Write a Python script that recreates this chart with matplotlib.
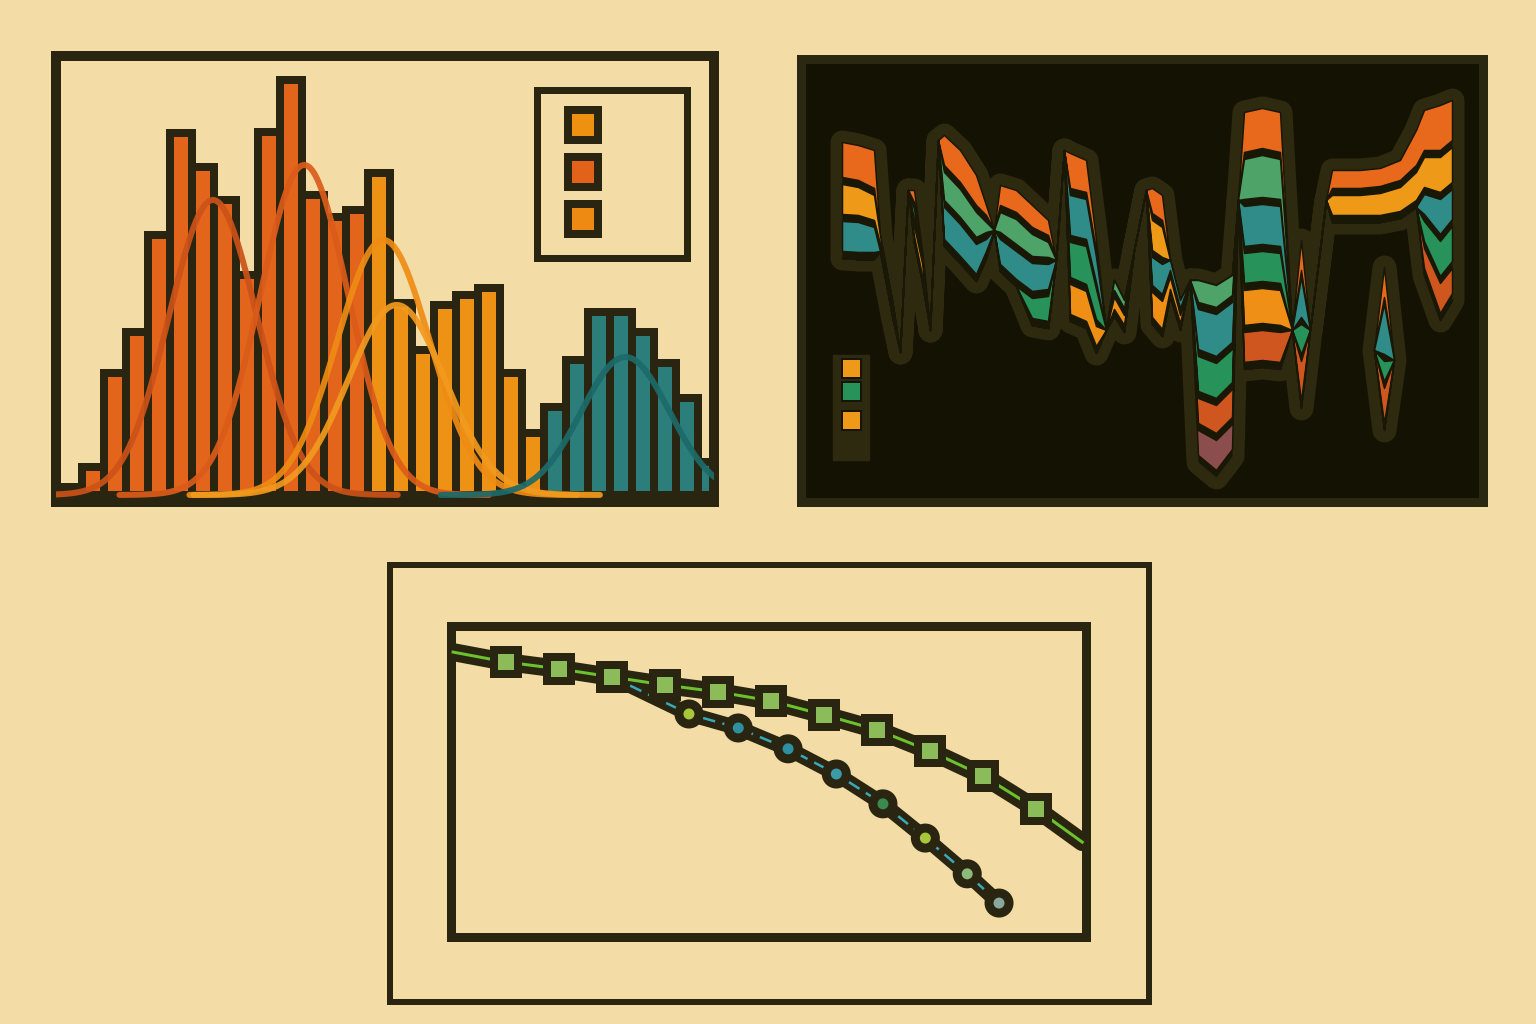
import numpy as np
import matplotlib.pyplot as plt

BG = '#F3DCA5'
INK = '#2A2510'

# ---- histogram panel data (bin counts, one bar per bin) ----
bin_counts = [0.8, 2.8, 12.2, 16.3, 26.0, 36.2, 32.8, 29.5, 22.0, 36.3,
              41.5, 30.0, 27.8, 28.5, 32.2, 19.2, 14.5, 19.0, 20.0, 20.7,
              12.2, 6.2, 8.8, 13.5, 18.3, 18.3, 16.3, 13.2, 9.7, 3.3]
bin_group = [0] * 14 + [1] * 8 + [2] * 8
group_colors = ['#E2651B', '#EE9215', '#2B7E7A']

# fitted normal curves: mean, sd, peak height
curve_mean = [6.95, 11.1, 14.7, 15.3, 25.7]
curve_sd = [2.0, 2.0, 2.1, 2.2, 2.0]
curve_peak = [29.5, 33.0, 25.5, 19.0, 13.8]
curve_colors = ['#CC5218', '#DB5C1A', '#EF8C14', '#F29A1E', '#1C6A6A']

legend1_colors = ['#EE9010', '#E2621A', '#EE8A12']

# ---- stream panel data ----
stream_t = [0, 1.6, 3.2, 3.8, 5.0, 5.8, 6.6, 7.2, 8.0, 8.8, 9.6, 10.2, 11.8,
            13.4, 14.4, 15.2, 15.8, 17.4, 19.0, 20.6, 21.4, 22.2, 22.8,
            24.4, 25.4, 26.4, 27.2, 28.2, 29.2, 30.4, 31.0, 32.0, 32.8,
            33.8, 34.8, 35.6, 37.4, 39.0, 39.6, 40.2, 42.0, 43.8, 45.0,
            45.9, 46.8, 48.4, 49.0, 51.8, 53.8, 55.8, 57.4, 58.2, 59.8, 61.0]
stream_top = [14.2, 14.5, 15.0, 23.6, 30.0, 35.2, 19.0, 19.0, 25.0, 33.0,
              14.0, 13.5, 15.0, 17.5, 20.5, 23.0, 18.5, 19.0, 20.5, 22.0,
              26.0, 15.0, 15.3, 16.0, 24.0, 33.0, 28.0, 30.0, 25.0, 19.0,
              18.8, 19.5, 26.0, 30.0, 28.0, 28.0, 28.5, 27.5, 20.0, 11.2,
              10.8, 11.2, 33.0, 24.0, 33.0, 20.0, 17.0, 17.0, 16.8, 16.0,
              13.0, 11.0, 10.5, 10.0]
s_orange = ([3.5, 3.5, 3.8] + [0] * 4 + [1.2, 0.6] + [0] * 2 +
            [3.0, 3.2, 3.0, 1.0, 0, 2.0, 2.2, 2.2, 1.5] + [0] * 2 +
            [3.5, 3.2, 1.0] + [0] * 5 + [2.5, 2.5] + [0] * 7 +
            [4.0, 4.0, 4.0, 0, 3.0, 0, 0] +
            [1.8, 1.8, 1.8, 2.0, 3.5, 4.0, 4.5, 4.0])
s_amber = ([3.0, 2.8, 2.5, 0.8, 0.8] + [0] * 25 + [3.0, 3.0] + [0] * 14 +
           [2.0, 2.0, 2.2, 2.4, 2.8, 3.0, 3.5, 3.5])
s_lgreen = ([0] * 7 + [1.0] + [0] * 3 + [2.8, 2.8, 2.5, 1.0, 0,
            2.0, 2.5, 2.2, 1.5] + [0] * 6 + [1.0, 0.8] + [0] * 7 +
            [2.2, 2.2, 2.0, 0, 4.0, 4.2, 4.0] + [0] * 12)
s_teal = ([3.0, 3.0, 2.5] + [0] * 8 + [3.2, 3.2, 3.0, 1.2, 0,
          2.5, 2.8, 2.8, 2.5, 0, 0, 4.0, 4.0, 2.5] + [0] * 5 +
          [2.8, 3.0, 1.0, 0.8, 0, 4.0, 4.2, 4.0, 0, 4.0, 4.0, 4.0, 0, 4.0] +
          [0] * 7 + [2.0, 3.5, 3.0])
s_green = ([0] * 18 + [2.0, 2.5, 0, 0, 3.5, 3.8, 3.0] + [0] * 10 +
           [3.5, 3.5, 3.3, 0, 3.0, 3.0, 3.0, 0, 3.0] + [0] * 7 +
           [2.0, 3.5, 3.5])
s_amber2 = ([0] * 7 + [1.0, 1.2] + [0] * 13 + [3.0, 3.0, 2.0, 0, 1.2, 1.0,
            0, 0, 2.5, 2.8, 1.2, 0.8] + [0] * 5 + [3.5, 3.5, 3.5] + [0] * 12)
s_red = ([0] * 35 + [2.5, 2.8, 2.8, 0, 3.0, 3.0, 3.0, 0, 4.0] + [0] * 7 +
         [2.0, 3.0, 2.5])
s_mauve = [0] * 35 + [2.5, 3.0, 2.5] + [0] * 16
stream_layers = [s_orange, s_amber, s_lgreen, s_teal, s_green, s_amber2,
                 s_red, s_mauve]
stream_colors = ['#E8691C', '#EE9A18', '#4DA368', '#2F8C88', '#27925A',
                 '#EF8F16', '#CF561E', '#8C4E4C']

# small detached stream on the right
side_t = [53.2, 54.2, 55.2]
side_top = [35.0, 26.7, 36.0]
side_layers = [[0, 3.0, 0], [0, 0, 0], [0, 0, 0], [0, 5.0, 0], [0, 2.0, 0],
               [0, 0, 0], [0, 3.5, 0], [0, 0, 0]]

legend2_colors = ['#EE9A18', '#27925A', '#EE9A18']

# ---- line panel data ----
sq_x = [0, 1, 2, 3, 4, 5, 6, 7, 8, 9, 10, 11, 11.87]
sq_y = [9.16, 8.84, 8.62, 8.36, 8.10, 7.88, 7.59, 7.14, 6.66, 5.98, 5.18,
        4.12, 3.05]
ci_x = [3, 4.45, 5.38, 6.32, 7.23, 8.11, 8.91, 9.70, 10.30]
ci_y = [8.36, 7.17, 6.72, 6.05, 5.24, 4.28, 3.18, 2.03, 1.09]
ci_colors = ['#A8C83A', '#2E8FA0', '#2E8FA0', '#3A9AA8', '#3A8A50',
             '#A8C83A', '#8DBA7A', '#8AA8A0']

PX = 72 / 100  # points per pixel
DARK = '#141203'
HALO = '#2E2A0F'
GAP = 0.7


def draw_stream(ax, t, top, layers, colors):
    t = np.array(t, float)
    top = np.array(top, float)
    vals = [np.array(v, float) for v in layers]
    total = np.zeros_like(top)
    for v in vals:
        total = total + v + GAP * (v > 0)
    ax.fill_between(t, top, top + total, color=HALO, ec=HALO,
                    lw=24 * PX, joinstyle='round', zorder=1)
    ax.fill_between(t, top, top + total, color='#191705', lw=0, zorder=2)
    cur = top.copy()
    for v, c in zip(vals, colors):
        ax.fill_between(t, cur, cur + v, color=c, ec='#191705',
                        lw=1.5 * PX, joinstyle='round', zorder=3)
        cur = cur + v + GAP * (v > 0)


fig = plt.figure(figsize=(15.36, 10.24), dpi=100, facecolor=BG)

# ---------------- panel 1: histogram ----------------
ax1 = fig.add_axes([0.0365, 0.5098, 0.4284, 0.4355], facecolor=BG)
bar_cols = [group_colors[g] for g in bin_group]
ax1.bar(np.arange(len(bin_counts)), bin_counts, width=1, align='edge',
        color=bar_cols, edgecolor=INK, linewidth=8 * PX, zorder=2)
for m, s, p, c in zip(curve_mean, curve_sd, curve_peak, curve_colors):
    xs = np.linspace(m - 4.2 * s, m + 4.2 * s, 300)
    ax1.plot(xs, p * np.exp(-0.5 * ((xs - m) / s) ** 2), color=c,
             lw=6 * PX, alpha=0.92, zorder=3, solid_capstyle='round')
ax1.set_xlim(-0.18, 29.73)
ax1.set_ylim(-0.7, 43.9)
ax1.set_xticks([])
ax1.set_yticks([])
for sp in ax1.spines.values():
    sp.set_linewidth(10 * PX)
    sp.set_color(INK)
ax1.add_patch(plt.Rectangle((0.731, 0.547), 0.228, 0.377,
                            transform=ax1.transAxes, fill=False,
                            ec=INK, lw=7 * PX, zorder=5))
for yy, c in zip([0.845, 0.740, 0.635], legend1_colors):
    ax1.plot([0.801], [yy], 's', transform=ax1.transAxes, ms=30 * PX,
             mfc=c, mec=INK, mew=8 * PX, zorder=6)

# ---------------- panel 2: stream ----------------
ax2 = fig.add_axes([0.5215, 0.5098, 0.444, 0.4326], facecolor=DARK)
draw_stream(ax2, stream_t, stream_top, stream_layers, stream_colors)
draw_stream(ax2, side_t, side_top, side_layers, stream_colors)
ax2.set_xlim(-4.1, 64.1)
ax2.set_ylim(50.2, 5.9)
ax2.set_xticks([])
ax2.set_yticks([])
for sp in ax2.spines.values():
    sp.set_linewidth(9 * PX)
    sp.set_color('#2B2811')
ax2.add_patch(plt.Rectangle((0.047, 0.095), 0.052, 0.237,
                            transform=ax2.transAxes, color=HALO, zorder=4))
for yy, c in zip([0.302, 0.251, 0.185], legend2_colors):
    ax2.plot([0.073], [yy], 's', transform=ax2.transAxes, ms=19 * PX,
             mfc=c, mec='#161405', mew=2 * PX, zorder=5)

# ---------------- panel 3: lines ----------------
ax3o = fig.add_axes([0.2539, 0.0215, 0.4941, 0.4268], facecolor=BG)
ax3o.set_xticks([])
ax3o.set_yticks([])
for sp in ax3o.spines.values():
    sp.set_linewidth(6 * PX)
    sp.set_color(INK)

ax3 = fig.add_axes([0.2936, 0.0850, 0.4134, 0.3037], facecolor=BG)
ax3.plot(sq_x, sq_y, color=INK, lw=18 * PX, solid_capstyle='round',
         solid_joinstyle='round', zorder=2)
ax3.plot(ci_x, ci_y, color=INK, lw=15 * PX, solid_capstyle='round',
         solid_joinstyle='round', zorder=2)
ax3.plot(sq_x, sq_y, color='#6CC12E', lw=3 * PX, zorder=3)
ax3.plot(ci_x, ci_y, color='#3AA8B8', lw=2.5 * PX, dashes=(5, 3), zorder=3)
ax3.plot(sq_x[1:-1], sq_y[1:-1], 's', ms=24 * PX, mfc='#8CBB5A', mec=INK,
         mew=8 * PX, zorder=4)
ax3.scatter(ci_x[1:], ci_y[1:], s=(20 * PX) ** 2, c=ci_colors,
            edgecolors=INK, linewidths=9 * PX, zorder=4)
ax3.set_xlim(-0.04, 11.94)
ax3.set_ylim(0, 10)
ax3.set_xticks([])
ax3.set_yticks([])
for sp in ax3.spines.values():
    sp.set_linewidth(9 * PX)
    sp.set_color(INK)

fig.savefig('out.png', dpi=100, facecolor=BG)
